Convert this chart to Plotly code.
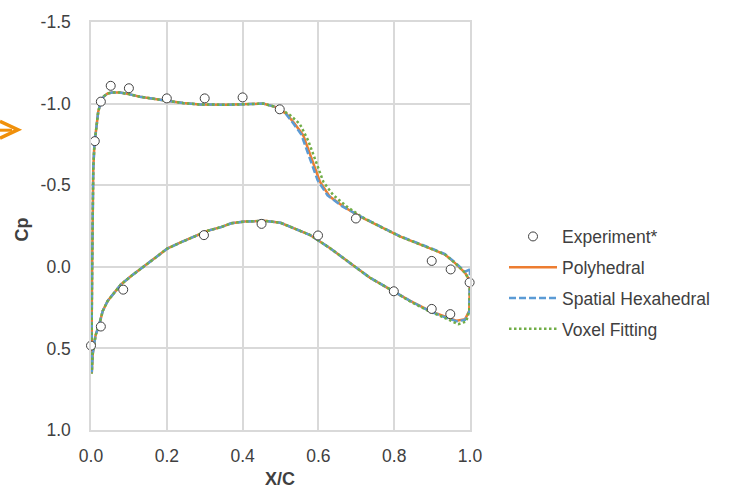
import plotly.graph_objects as go

# ---------------- data ----------------
# Experiment*
exp_x = [0.000, 0.010, 0.026, 0.052, 0.100, 0.200, 0.300, 0.400, 0.498, 0.699,
         0.899, 0.949, 0.999, 0.026, 0.085, 0.298, 0.450, 0.599, 0.799, 0.899, 0.948]
exp_cp = [0.483, -0.770, -1.012, -1.109, -1.094, -1.032, -1.032, -1.038, -0.965, -0.296,
          -0.036, 0.016, 0.096, 0.366, 0.140, -0.194, -0.263, -0.192, 0.150, 0.258, 0.290]

# Polyhedral  (path: trailing edge -> upper surface -> leading edge -> lower surface -> trailing edge)
poly_x = [1.000, 0.987, 0.960, 0.934, 0.903, 0.868, 0.815, 0.762, 0.710, 0.666,
          0.630, 0.604, 0.582, 0.560, 0.538, 0.516, 0.490, 0.454, 0.419, 0.358,
          0.287, 0.243, 0.200, 0.155, 0.129, 0.100, 0.076, 0.055, 0.044, 0.034,
          0.026, 0.019, 0.013, 0.009, 0.006, 0.004, 0.003, 0.002, 0.002,
          0.0045, 0.012, 0.022, 0.031, 0.044, 0.062, 0.079, 0.106, 0.137, 0.167,
          0.201, 0.238, 0.273, 0.308, 0.343, 0.370, 0.405, 0.458, 0.500, 0.525,
          0.577, 0.630, 0.683, 0.736, 0.789, 0.842, 0.894, 0.929, 0.965, 0.987,
          0.998, 1.000]
poly_cp = [0.088, 0.037, -0.024, -0.075, -0.105, -0.136, -0.186, -0.247, -0.308, -0.369,
           -0.430, -0.521, -0.662, -0.805, -0.875, -0.936, -0.977, -1.000, -0.997, -0.993,
           -0.995, -1.003, -1.018, -1.032, -1.042, -1.058, -1.068, -1.068, -1.062, -1.045,
           -1.010, -0.950, -0.850, -0.750, -0.600, -0.350, 0.000, 0.300, 0.652,
           0.534, 0.420, 0.351, 0.270, 0.209, 0.159, 0.108, 0.057, 0.002, -0.054,
           -0.111, -0.151, -0.186, -0.221, -0.243, -0.267, -0.277, -0.282, -0.270, -0.247,
           -0.196, -0.115, -0.024, 0.067, 0.138, 0.209, 0.270, 0.300, 0.331, 0.321,
           0.270, 0.088]

# Spatial Hexahedral
hexa_x = [1.000, 0.987, 0.960, 0.934, 0.903, 0.868, 0.815, 0.762, 0.710, 0.662,
          0.624, 0.598, 0.576, 0.555, 0.534, 0.514, 0.490, 0.454, 0.419, 0.358,
          0.287, 0.243, 0.200, 0.155, 0.129, 0.100, 0.076, 0.055, 0.044, 0.034,
          0.026, 0.019, 0.013, 0.009, 0.006, 0.004, 0.003, 0.002, 0.002,
          0.0045, 0.012, 0.022, 0.031, 0.044, 0.062, 0.079, 0.106, 0.137, 0.167,
          0.201, 0.238, 0.273, 0.308, 0.343, 0.370, 0.405, 0.458, 0.500, 0.525,
          0.577, 0.630, 0.683, 0.736, 0.789, 0.842, 0.894, 0.929, 0.965, 0.987,
          0.998, 1.000]
hexa_cp = [0.015, 0.030, -0.028, -0.078, -0.108, -0.138, -0.188, -0.249, -0.310, -0.372,
           -0.438, -0.530, -0.670, -0.810, -0.878, -0.938, -0.978, -1.000, -0.997, -0.993,
           -0.995, -1.003, -1.018, -1.032, -1.042, -1.058, -1.068, -1.068, -1.062, -1.045,
           -1.010, -0.950, -0.850, -0.750, -0.600, -0.350, 0.000, 0.300, 0.648,
           0.534, 0.420, 0.351, 0.270, 0.209, 0.159, 0.108, 0.057, 0.002, -0.054,
           -0.111, -0.151, -0.186, -0.221, -0.243, -0.267, -0.277, -0.282, -0.270, -0.247,
           -0.196, -0.115, -0.024, 0.067, 0.138, 0.209, 0.272, 0.305, 0.334, 0.325,
           0.275, 0.015]

# Voxel Fitting
voxel_x = [1.000, 0.987, 0.960, 0.934, 0.903, 0.868, 0.815, 0.762, 0.715, 0.675,
           0.639, 0.613, 0.591, 0.573, 0.551, 0.525, 0.495, 0.454, 0.419, 0.358,
           0.287, 0.243, 0.200, 0.155, 0.129, 0.100, 0.076, 0.055, 0.044, 0.034,
           0.026, 0.019, 0.013, 0.009, 0.006, 0.004, 0.003, 0.002, 0.002,
           0.0045, 0.012, 0.022, 0.031, 0.044, 0.062, 0.079, 0.106, 0.137, 0.167,
           0.201, 0.238, 0.273, 0.308, 0.343, 0.370, 0.405, 0.458, 0.500, 0.525,
           0.577, 0.630, 0.683, 0.736, 0.789, 0.842, 0.894, 0.929, 0.969, 0.990,
           0.998, 1.000]
voxel_cp = [0.088, 0.037, -0.024, -0.075, -0.105, -0.136, -0.186, -0.247, -0.305, -0.369,
            -0.440, -0.521, -0.662, -0.774, -0.875, -0.930, -0.975, -1.000, -0.997, -0.993,
            -0.995, -1.003, -1.018, -1.032, -1.042, -1.058, -1.068, -1.068, -1.062, -1.045,
            -1.010, -0.950, -0.850, -0.750, -0.600, -0.350, 0.000, 0.300, 0.655,
            0.534, 0.420, 0.351, 0.270, 0.209, 0.159, 0.108, 0.057, 0.002, -0.054,
            -0.111, -0.151, -0.186, -0.221, -0.243, -0.267, -0.277, -0.282, -0.270, -0.247,
            -0.196, -0.115, -0.024, 0.067, 0.138, 0.212, 0.275, 0.308, 0.352, 0.335,
            0.270, 0.088]

x_ticks = [0.0, 0.2, 0.4, 0.6, 0.8, 1.0]
x_ticktext = ["0.0", "0.2", "0.4", "0.6", "0.8", "1.0"]
y_ticks = [-1.5, -1.0, -0.5, 0.0, 0.5, 1.0]
y_ticktext = ["-1.5", "-1.0", "-0.5", "0.0", "0.5", "1.0"]

# ---------------- styling ----------------
FONT = "Liberation Sans, Arial, sans-serif"
TXT = "#404040"
GRID = "#D9D9D9"
W, H = 743, 491
L, R, T, B = 91, 273, 19, 61


def px2paper(px, py):
    return (px - L) / (W - L - R), (H - B - py) / (H - T - B)


fig = go.Figure()
fig.add_trace(go.Scatter(x=poly_x, y=poly_cp, mode="lines", name="Polyhedral",
                         legendrank=2, legendgroup="b",
                         line=dict(color="#ED7D31", width=2.5)))
fig.add_trace(go.Scatter(x=hexa_x, y=hexa_cp, mode="lines", name="Spatial Hexahedral",
                         legendrank=3, legendgroup="c",
                         line=dict(color="#5B9BD5", width=2.5, dash="7px,3px")))
fig.add_trace(go.Scatter(x=voxel_x, y=voxel_cp, mode="lines", name="Voxel Fitting",
                         legendrank=4, legendgroup="d",
                         line=dict(color="#70AD47", width=2.5, dash="2.5px,2.5px")))
fig.add_trace(go.Scatter(x=exp_x, y=exp_cp, mode="markers", name="Experiment*",
                         legendrank=1, legendgroup="a", cliponaxis=False,
                         marker=dict(symbol="circle", size=9, color="white",
                                     line=dict(color=TXT, width=1))))

ax_common = dict(showgrid=True, gridcolor=GRID, gridwidth=1.5, zeroline=False,
                 showline=True, linecolor=GRID, linewidth=1.5, mirror=True,
                 ticks="", tickfont=dict(family=FONT, size=17.5, color=TXT))

fig.update_xaxes(range=[0, 1], tickvals=x_ticks, ticktext=x_ticktext,
                 ticklabelstandoff=9, **ax_common)
fig.update_yaxes(range=[1.0, -1.5], tickvals=y_ticks, ticktext=y_ticktext,
                 ticklabelstandoff=15, **ax_common)

ax_x, ax_y = px2paper(280, 479)
cp_x, cp_y = px2paper(22, 228)
a1 = px2paper(0, 119)
a2 = px2paper(18, 127.5)
a3 = px2paper(0, 136)
s1 = px2paper(0, 128)
s2 = px2paper(12, 128)
leg_x, leg_y = px2paper(504, 217)

fig.update_layout(
    width=W, height=H,
    margin=dict(l=L, r=R, t=T, b=B),
    paper_bgcolor="white", plot_bgcolor="white",
    font=dict(family=FONT, size=17.5, color=TXT),
    showlegend=True,
    legend=dict(x=leg_x, y=leg_y, xanchor="left", yanchor="top",
                font=dict(family=FONT, size=17.5, color=TXT),
                bgcolor="rgba(0,0,0,0)", tracegroupgap=5, itemwidth=48),
    annotations=[
        dict(text="<b>X/C</b>", x=ax_x, y=ax_y, xref="paper", yref="paper",
             showarrow=False, xanchor="center", yanchor="middle",
             font=dict(family=FONT, size=18, color=TXT)),
        dict(text="<b>Cp</b>", x=cp_x, y=cp_y, xref="paper", yref="paper",
             showarrow=False, xanchor="center", yanchor="middle", textangle=-90,
             font=dict(family=FONT, size=18, color=TXT)),
    ],
    shapes=[
        dict(type="path", xref="paper", yref="paper",
             path=f"M{a1[0]},{a1[1]} L{a2[0]},{a2[1]} L{a3[0]},{a3[1]}",
             line=dict(color="#F0900A", width=3.5)),
        dict(type="path", xref="paper", yref="paper",
             path=f"M{s1[0]},{s1[1]} L{s2[0]},{s2[1]}",
             line=dict(color="#F0900A", width=3)),
    ],
)

fig.write_html("out.html", config={"displayModeBar": False},
               post_script="document.body.style.margin='0';")
